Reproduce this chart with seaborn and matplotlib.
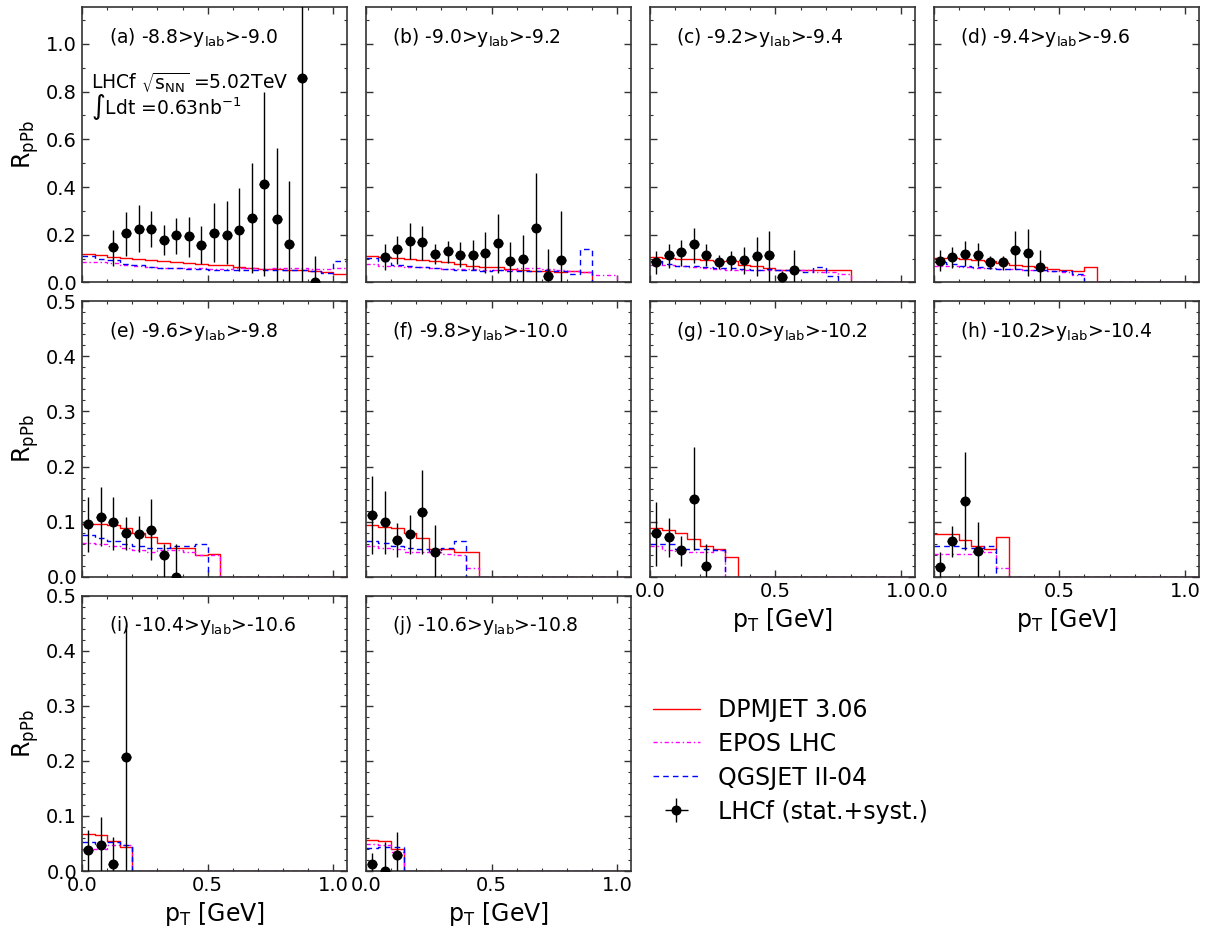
import numpy as np
import pandas as pd
import matplotlib
matplotlib.use("Agg")
import matplotlib.pyplot as plt
import seaborn as sns
from matplotlib.ticker import MultipleLocator

# ---------------- data ----------------
bin_edges = [0.00, 0.05, 0.10, 0.15, 0.20, 0.25, 0.30, 0.35, 0.40, 0.45, 0.50,
             0.55, 0.60, 0.65, 0.70, 0.75, 0.80, 0.85, 0.90, 0.95, 1.00, 1.05]

panel_labels = ["(a) -8.8>y$_{lab}$>-9.0", "(b) -9.0>y$_{lab}$>-9.2",
                "(c) -9.2>y$_{lab}$>-9.4", "(d) -9.4>y$_{lab}$>-9.6",
                "(e) -9.6>y$_{lab}$>-9.8", "(f) -9.8>y$_{lab}$>-10.0",
                "(g) -10.0>y$_{lab}$>-10.2", "(h) -10.2>y$_{lab}$>-10.4",
                "(i) -10.4>y$_{lab}$>-10.6", "(j) -10.6>y$_{lab}$>-10.8"]

model_names = ["DPMJET 3.06", "EPOS LHC", "QGSJET II-04"]
data_name = "LHCf (stat.+syst.)"

# DPMJET 3.06
dpm_a = [0.119, 0.114, 0.107, 0.103, 0.099, 0.095, 0.091, 0.085, 0.082, 0.078, 0.074, 0.071, 0.066, 0.061, 0.057, 0.054, 0.053, 0.050, 0.047, 0.043, 0.036]
dpm_b = [0.112, 0.108, 0.102, 0.098, 0.094, 0.091, 0.084, 0.077, 0.070, 0.066, 0.063, 0.056, 0.052, 0.049, 0.046, 0.042, 0.046, 0.042, 0.0, 0.0, 0.0]
dpm_c = [0.106, 0.102, 0.099, 0.098, 0.095, 0.091, 0.088, 0.074, 0.067, 0.060, 0.050, 0.050, 0.050, 0.050, 0.050, 0.050, 0.0, 0.0, 0.0, 0.0, 0.0]
dpm_d = [0.102, 0.102, 0.098, 0.095, 0.088, 0.081, 0.074, 0.067, 0.063, 0.056, 0.050, 0.048, 0.063, 0.0, 0.0, 0.0, 0.0, 0.0, 0.0, 0.0, 0.0]
dpm_e = [0.095, 0.095, 0.093, 0.088, 0.080, 0.072, 0.062, 0.053, 0.053, 0.039, 0.042, 0.0, 0.0, 0.0, 0.0, 0.0, 0.0, 0.0, 0.0, 0.0, 0.0]
dpm_f = [0.094, 0.091, 0.088, 0.079, 0.070, 0.050, 0.050, 0.044, 0.044, 0.0, 0.0, 0.0, 0.0, 0.0, 0.0, 0.0, 0.0, 0.0, 0.0, 0.0, 0.0]
dpm_g = [0.088, 0.085, 0.080, 0.068, 0.055, 0.050, 0.035, 0.0, 0.0, 0.0, 0.0, 0.0, 0.0, 0.0, 0.0, 0.0, 0.0, 0.0, 0.0, 0.0, 0.0]
dpm_h = [0.077, 0.077, 0.067, 0.055, 0.050, 0.073, 0.0, 0.0, 0.0, 0.0, 0.0, 0.0, 0.0, 0.0, 0.0, 0.0, 0.0, 0.0, 0.0, 0.0, 0.0]
dpm_i = [0.067, 0.065, 0.055, 0.043, 0.0, 0.0, 0.0, 0.0, 0.0, 0.0, 0.0, 0.0, 0.0, 0.0, 0.0, 0.0, 0.0, 0.0, 0.0, 0.0, 0.0]
dpm_j = [0.057, 0.055, 0.040, 0.0, 0.0, 0.0, 0.0, 0.0, 0.0, 0.0, 0.0, 0.0, 0.0, 0.0, 0.0, 0.0, 0.0, 0.0, 0.0, 0.0, 0.0]

# EPOS LHC
epos_a = [0.085, 0.085, 0.081, 0.074, 0.068, 0.064, 0.062, 0.061, 0.060, 0.060, 0.057, 0.057, 0.061, 0.060, 0.057, 0.061, 0.060, 0.060, 0.057, 0.057, 0.060]
epos_b = [0.077, 0.070, 0.070, 0.066, 0.063, 0.059, 0.056, 0.055, 0.055, 0.053, 0.052, 0.052, 0.059, 0.059, 0.056, 0.052, 0.046, 0.042, 0.032, 0.032, 0.0]
epos_c = [0.074, 0.071, 0.067, 0.063, 0.060, 0.056, 0.053, 0.053, 0.053, 0.053, 0.053, 0.053, 0.050, 0.042, 0.042, 0.036, 0.0, 0.0, 0.0, 0.0, 0.0]
epos_d = [0.070, 0.067, 0.063, 0.060, 0.060, 0.056, 0.056, 0.053, 0.050, 0.046, 0.042, 0.032, 0.0, 0.0, 0.0, 0.0, 0.0, 0.0, 0.0, 0.0, 0.0]
epos_e = [0.061, 0.060, 0.056, 0.052, 0.048, 0.045, 0.048, 0.049, 0.045, 0.039, 0.039, 0.0, 0.0, 0.0, 0.0, 0.0, 0.0, 0.0, 0.0, 0.0, 0.0]
epos_f = [0.055, 0.052, 0.050, 0.045, 0.044, 0.044, 0.042, 0.039, 0.015, 0.0, 0.0, 0.0, 0.0, 0.0, 0.0, 0.0, 0.0, 0.0, 0.0, 0.0, 0.0]
epos_g = [0.055, 0.048, 0.045, 0.045, 0.045, 0.048, 0.0, 0.0, 0.0, 0.0, 0.0, 0.0, 0.0, 0.0, 0.0, 0.0, 0.0, 0.0, 0.0, 0.0, 0.0]
epos_h = [0.042, 0.042, 0.042, 0.045, 0.045, 0.015, 0.0, 0.0, 0.0, 0.0, 0.0, 0.0, 0.0, 0.0, 0.0, 0.0, 0.0, 0.0, 0.0, 0.0, 0.0]
epos_i = [0.040, 0.040, 0.047, 0.048, 0.0, 0.0, 0.0, 0.0, 0.0, 0.0, 0.0, 0.0, 0.0, 0.0, 0.0, 0.0, 0.0, 0.0, 0.0, 0.0, 0.0]
epos_j = [0.050, 0.048, 0.035, 0.0, 0.0, 0.0, 0.0, 0.0, 0.0, 0.0, 0.0, 0.0, 0.0, 0.0, 0.0, 0.0, 0.0, 0.0, 0.0, 0.0, 0.0]

# QGSJET II-04
qgs_a = [0.112, 0.099, 0.093, 0.078, 0.071, 0.064, 0.060, 0.060, 0.057, 0.054, 0.053, 0.050, 0.053, 0.050, 0.050, 0.053, 0.050, 0.053, 0.046, 0.040, 0.088]
qgs_b = [0.102, 0.091, 0.073, 0.067, 0.063, 0.059, 0.056, 0.052, 0.053, 0.049, 0.052, 0.049, 0.046, 0.046, 0.052, 0.046, 0.035, 0.140, 0.0, 0.0, 0.0]
qgs_c = [0.088, 0.077, 0.070, 0.067, 0.063, 0.060, 0.060, 0.056, 0.053, 0.056, 0.050, 0.050, 0.045, 0.063, 0.025, 0.0, 0.0, 0.0, 0.0, 0.0, 0.0]
qgs_d = [0.084, 0.077, 0.067, 0.063, 0.060, 0.056, 0.056, 0.050, 0.050, 0.046, 0.046, 0.036, 0.0, 0.0, 0.0, 0.0, 0.0, 0.0, 0.0, 0.0, 0.0]
qgs_e = [0.075, 0.070, 0.065, 0.059, 0.056, 0.052, 0.052, 0.055, 0.055, 0.059, 0.0, 0.0, 0.0, 0.0, 0.0, 0.0, 0.0, 0.0, 0.0, 0.0, 0.0]
qgs_f = [0.065, 0.061, 0.056, 0.052, 0.050, 0.045, 0.052, 0.065, 0.0, 0.0, 0.0, 0.0, 0.0, 0.0, 0.0, 0.0, 0.0, 0.0, 0.0, 0.0, 0.0]
qgs_g = [0.060, 0.060, 0.050, 0.050, 0.050, 0.048, 0.0, 0.0, 0.0, 0.0, 0.0, 0.0, 0.0, 0.0, 0.0, 0.0, 0.0, 0.0, 0.0, 0.0, 0.0]
qgs_h = [0.055, 0.055, 0.052, 0.052, 0.055, 0.0, 0.0, 0.0, 0.0, 0.0, 0.0, 0.0, 0.0, 0.0, 0.0, 0.0, 0.0, 0.0, 0.0, 0.0, 0.0]
qgs_i = [0.053, 0.050, 0.052, 0.048, 0.0, 0.0, 0.0, 0.0, 0.0, 0.0, 0.0, 0.0, 0.0, 0.0, 0.0, 0.0, 0.0, 0.0, 0.0, 0.0, 0.0]
qgs_j = [0.042, 0.043, 0.043, 0.0, 0.0, 0.0, 0.0, 0.0, 0.0, 0.0, 0.0, 0.0, 0.0, 0.0, 0.0, 0.0, 0.0, 0.0, 0.0, 0.0, 0.0]

# LHCf data: bin centres, central values, lower / upper edges of the total error band
lhcf_x_a = [0.125, 0.175, 0.225, 0.275, 0.325, 0.375, 0.425, 0.475, 0.525, 0.575, 0.625, 0.675, 0.725, 0.775, 0.825, 0.875, 0.925]
lhcf_y_a = [0.147, 0.206, 0.224, 0.224, 0.178, 0.199, 0.194, 0.157, 0.207, 0.200, 0.220, 0.270, 0.413, 0.266, 0.161, 0.857, 0.000]
lhcf_lo_a = [0.070, 0.112, 0.126, 0.147, 0.116, 0.119, 0.105, 0.077, 0.084, 0.077, 0.049, 0.038, 0.028, 0.000, 0.000, 0.000, 0.000]
lhcf_hi_a = [0.220, 0.297, 0.324, 0.298, 0.240, 0.270, 0.276, 0.238, 0.331, 0.343, 0.394, 0.500, 0.797, 0.562, 0.427, 1.500, 0.112]

lhcf_x_b = [0.075, 0.125, 0.175, 0.225, 0.275, 0.325, 0.375, 0.425, 0.475, 0.525, 0.575, 0.625, 0.675, 0.725, 0.775]
lhcf_y_b = [0.108, 0.138, 0.175, 0.168, 0.119, 0.130, 0.113, 0.113, 0.124, 0.166, 0.088, 0.098, 0.227, 0.028, 0.095]
lhcf_lo_b = [0.052, 0.077, 0.100, 0.094, 0.077, 0.080, 0.063, 0.052, 0.038, 0.038, 0.000, 0.000, 0.000, 0.000, 0.000]
lhcf_hi_b = [0.160, 0.196, 0.248, 0.238, 0.160, 0.175, 0.168, 0.178, 0.210, 0.287, 0.168, 0.200, 0.457, 0.140, 0.300]

lhcf_x_c = [0.025, 0.075, 0.125, 0.175, 0.225, 0.275, 0.325, 0.375, 0.425, 0.475, 0.525, 0.575]
lhcf_y_c = [0.084, 0.113, 0.126, 0.161, 0.116, 0.084, 0.092, 0.095, 0.112, 0.113, 0.022, 0.050]
lhcf_lo_c = [0.036, 0.060, 0.067, 0.081, 0.067, 0.056, 0.050, 0.036, 0.028, 0.000, 0.000, 0.000]
lhcf_hi_c = [0.130, 0.161, 0.179, 0.228, 0.161, 0.116, 0.130, 0.148, 0.190, 0.214, 0.046, 0.137]

lhcf_x_d = [0.025, 0.075, 0.125, 0.175, 0.225, 0.275, 0.325, 0.375, 0.425]
lhcf_y_d = [0.091, 0.105, 0.119, 0.116, 0.084, 0.084, 0.137, 0.123, 0.063]
lhcf_lo_d = [0.046, 0.060, 0.067, 0.067, 0.056, 0.053, 0.056, 0.025, 0.000]
lhcf_hi_d = [0.134, 0.148, 0.172, 0.165, 0.109, 0.109, 0.217, 0.224, 0.134]

lhcf_x_e = [0.025, 0.075, 0.125, 0.175, 0.225, 0.275, 0.325, 0.375]
lhcf_y_e = [0.095, 0.109, 0.099, 0.080, 0.077, 0.085, 0.039, 0.000]
lhcf_lo_e = [0.044, 0.055, 0.048, 0.048, 0.045, 0.030, 0.000, 0.000]
lhcf_hi_e = [0.145, 0.162, 0.145, 0.109, 0.110, 0.141, 0.060, 0.060]

lhcf_x_f = [0.025, 0.075, 0.125, 0.175, 0.225, 0.275]
lhcf_y_f = [0.112, 0.099, 0.067, 0.078, 0.118, 0.044]
lhcf_lo_f = [0.042, 0.042, 0.035, 0.042, 0.042, 0.000]
lhcf_hi_f = [0.182, 0.155, 0.097, 0.112, 0.194, 0.094]

lhcf_x_g = [0.025, 0.075, 0.125, 0.175, 0.225]
lhcf_y_g = [0.079, 0.072, 0.048, 0.141, 0.019]
lhcf_lo_g = [0.019, 0.035, 0.019, 0.048, 0.000]
lhcf_hi_g = [0.136, 0.107, 0.074, 0.236, 0.059]

lhcf_x_h = [0.025, 0.075, 0.125, 0.175]
lhcf_y_h = [0.018, 0.064, 0.138, 0.047]
lhcf_lo_h = [0.000, 0.035, 0.048, 0.000]
lhcf_hi_h = [0.044, 0.092, 0.227, 0.099]

lhcf_x_i = [0.025, 0.075, 0.125, 0.175]
lhcf_y_i = [0.039, 0.048, 0.013, 0.207]
lhcf_lo_i = [0.000, 0.000, 0.000, 0.000]
lhcf_hi_i = [0.074, 0.098, 0.062, 0.446]

lhcf_x_j = [0.025, 0.075, 0.125]
lhcf_y_j = [0.013, 0.000, 0.030]
lhcf_lo_j = [0.000, 0.000, 0.000]
lhcf_hi_j = [0.033, 0.053, 0.071]

dpm_all = [dpm_a, dpm_b, dpm_c, dpm_d, dpm_e, dpm_f, dpm_g, dpm_h, dpm_i, dpm_j]
epos_all = [epos_a, epos_b, epos_c, epos_d, epos_e, epos_f, epos_g, epos_h, epos_i, epos_j]
qgs_all = [qgs_a, qgs_b, qgs_c, qgs_d, qgs_e, qgs_f, qgs_g, qgs_h, qgs_i, qgs_j]
lx_all = [lhcf_x_a, lhcf_x_b, lhcf_x_c, lhcf_x_d, lhcf_x_e, lhcf_x_f, lhcf_x_g, lhcf_x_h, lhcf_x_i, lhcf_x_j]
ly_all = [lhcf_y_a, lhcf_y_b, lhcf_y_c, lhcf_y_d, lhcf_y_e, lhcf_y_f, lhcf_y_g, lhcf_y_h, lhcf_y_i, lhcf_y_j]
llo_all = [lhcf_lo_a, lhcf_lo_b, lhcf_lo_c, lhcf_lo_d, lhcf_lo_e, lhcf_lo_f, lhcf_lo_g, lhcf_lo_h, lhcf_lo_i, lhcf_lo_j]
lhi_all = [lhcf_hi_a, lhcf_hi_b, lhcf_hi_c, lhcf_hi_d, lhcf_hi_e, lhcf_hi_f, lhcf_hi_g, lhcf_hi_h, lhcf_hi_i, lhcf_hi_j]

# ---------------- style ----------------
sns.set_theme(style="ticks")
plt.rcParams["font.family"] = ["DejaVu Sans"]
plt.rcParams["mathtext.default"] = "regular"
plt.rcParams["axes.edgecolor"] = "#333333"
plt.rcParams["text.color"] = "black"
plt.rcParams["axes.labelcolor"] = "black"

TICK_FS = 14
LABEL_FS = 17
PANEL_FS = 13.5

fig = plt.figure(figsize=(12.11, 9.35), dpi=100)
gs = fig.add_gridspec(3, 4, left=0.0677, right=0.990, top=0.9925, bottom=0.0684,
                      wspace=0.07, hspace=0.069)

model_styles = [
    dict(color="#ff0000", linestyle="-", linewidth=1.0),
    dict(color="#ff00ff", linestyle=(0, (3, 2, 1, 2)), linewidth=1.0),
    dict(color="#0000ff", linestyle=(0, (4, 3)), linewidth=1.0),
]

legend_handles = None
positions = [(0, 0), (0, 1), (0, 2), (0, 3), (1, 0), (1, 1), (1, 2), (1, 3), (2, 0), (2, 1)]
for k, (r, c) in enumerate(positions):
    ax = fig.add_subplot(gs[r, c])
    handles = []
    for vals, name, st in zip([dpm_all[k], epos_all[k], qgs_all[k]], model_names, model_styles):
        yy = list(vals) + [vals[-1]]
        df = pd.DataFrame({"pt": bin_edges, "R": yy})
        sns.lineplot(data=df, x="pt", y="R", ax=ax, estimator=None, sort=False,
                     drawstyle="steps-post", zorder=2, **st)
        handles.append(ax.lines[-1])
    y = np.array(ly_all[k])
    lo = np.array(llo_all[k])
    hi = np.array(lhi_all[k])
    eb = ax.errorbar(lx_all[k], y, yerr=[y - lo, hi - y], xerr=0.02, fmt="o",
                     color="black", markersize=6.2, elinewidth=1.0, capsize=0, zorder=3)
    handles.append(eb)
    if legend_handles is None:
        legend_handles = handles

    ax.set_xlim(0, 1.055)
    if r == 0:
        ax.set_ylim(0, 1.155)
        ax.yaxis.set_major_locator(MultipleLocator(0.2))
        ax.yaxis.set_minor_locator(MultipleLocator(0.1))
    else:
        ax.set_ylim(0, 0.5)
        ax.yaxis.set_major_locator(MultipleLocator(0.1))
        ax.yaxis.set_minor_locator(MultipleLocator(0.02))
    ax.xaxis.set_major_locator(MultipleLocator(0.5))
    ax.xaxis.set_minor_locator(MultipleLocator(0.1))
    ax.tick_params(which="both", direction="in", top=True, right=True,
                   labelsize=TICK_FS, color="#333333", labelcolor="black")
    ax.tick_params(which="major", length=5, width=1.0)
    ax.tick_params(which="minor", length=2.5, width=0.8)
    for sp in ax.spines.values():
        sp.set_linewidth(1.2)

    show_x = (r == 2) or (r == 1 and c >= 2)
    if show_x:
        ax.set_xlabel("p$_{T}$ [GeV]", fontsize=LABEL_FS)
    else:
        ax.set_xlabel("")
        ax.tick_params(labelbottom=False)
    if c == 0:
        ax.set_ylabel("R$_{pPb}$", fontsize=LABEL_FS)
    else:
        ax.set_ylabel("")
        ax.tick_params(labelleft=False)

    ax.text(0.1, 0.89, panel_labels[k], transform=ax.transAxes, fontsize=PANEL_FS,
            ha="left", va="center")
    if k == 0:
        ax.text(0.034, 0.725, "LHCf $\\sqrt{s_{NN}}$ =5.02TeV", transform=ax.transAxes,
                fontsize=PANEL_FS, ha="left", va="center")
        ax.text(0.034, 0.635, "$\\int$Ldt =0.63nb$^{-1}$", transform=ax.transAxes,
                fontsize=PANEL_FS, ha="left", va="center")

fig.legend(legend_handles, model_names + [data_name], loc="upper left",
           bbox_to_anchor=(641 / 1211, 1 - 686 / 935), frameon=False,
           fontsize=LABEL_FS, borderpad=0, handlelength=2.0, handletextpad=0.75,
           labelspacing=0.42)

fig.savefig("out.png", dpi=100, facecolor="white")
